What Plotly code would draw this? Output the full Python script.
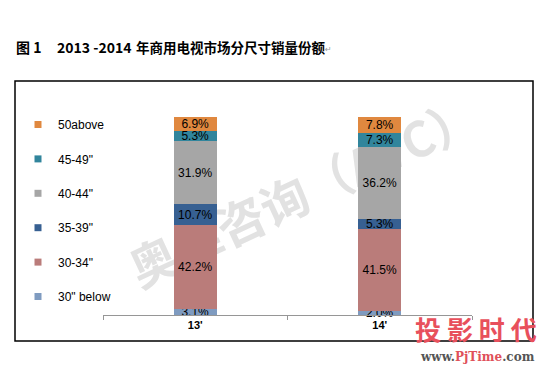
import plotly.graph_objects as go

categories = ["13'", "14'"]
legend_labels = ["30\" below", "30-34\"", "35-39\"", "40-44\"", "45-49\"", "50above"]
values_30below = [3.1, 2.0]
values_30_34 = [42.2, 41.5]
values_35_39 = [10.7, 5.3]
values_40_44 = [31.9, 36.2]
values_45_49 = [5.3, 7.3]
values_50above = [6.9, 7.8]
colors = ["#7F9BC0", "#BA7C7A", "#376092", "#A6A6A6", "#31859C", "#E0883F"]

title_prefix = "图 1"
title_years = "2013 -2014"
title_cjk = "年商用电视市场分尺寸销量份额"
watermark = "奥维咨询（AVC）"

all_values = [values_30below, values_30_34, values_35_39, values_40_44, values_45_49, values_50above]

fig = go.Figure()
for name, vals, col in zip(legend_labels, all_values, colors):
    fig.add_trace(go.Bar(
        x=categories, y=vals, name=name, marker=dict(color=col, line=dict(width=0)),
        width=0.235, cliponaxis=False,
        text=[f"{v:.1f}%" for v in vals], textposition="inside", insidetextanchor="middle",
        constraintext="none", textangle=0,
        textfont=dict(family="Liberation Sans, Arial", size=12, color="black"),
        showlegend=False, hoverinfo="skip",
    ))

# legend entries (small square markers), top to bottom: 50above ... 30" below
for i, (name, col) in enumerate(zip(legend_labels[::-1], colors[::-1])):
    fig.add_trace(go.Scatter(
        x=[None], y=[None], mode="markers", name=name,
        marker=dict(symbol="square", size=7, color=col),
        legendgroup=f"g{i}", showlegend=True,
    ))

W_L, W_R = 103, 472
Y_T, Y_B = 117, 315
pw = W_R - W_L
ph = Y_B - Y_T

def px(x):
    return (x - W_L) / pw

def py(y):
    return (Y_B - y) / ph

fig.update_layout(
    width=550, height=375,
    margin=dict(l=W_L, r=550 - W_R, t=Y_T, b=375 - Y_B, autoexpand=False),
    paper_bgcolor="white", plot_bgcolor="white",
    barmode="stack",
    font=dict(family="Liberation Sans, Arial", color="black"),
    xaxis=dict(
        range=[-0.5, 1.5], showline=True, linecolor="#969696", linewidth=1,
        ticks="outside", tickson="boundaries", ticklen=4, tickcolor="#969696",
        showgrid=False, zeroline=False,
        tickfont=dict(family="Liberation Sans, Arial", size=11, color="black"),
        tickprefix="<b>", ticksuffix="</b>",
    ),
    yaxis=dict(range=[0, 100.2], visible=False, showgrid=False, zeroline=False),
    legend=dict(
        x=px(18), xanchor="left", y=py(110), yanchor="top",
        traceorder="grouped", tracegroupgap=15.4, maxheight=320,
        font=dict(family="Liberation Sans, Arial", size=12, color="black"),
        bgcolor="rgba(0,0,0,0)", itemwidth=30,
    ),
    showlegend=True,
)

# outer border
fig.add_shape(type="rect", xref="paper", yref="paper",
              x0=px(15), x1=px(533), y0=py(341), y1=py(81),
              line=dict(color="black", width=1.5), fillcolor="rgba(0,0,0,0)", layer="below")

# watermark under bars
fig.add_shape(type="line", xref="paper", yref="paper",
              x0=px(141), y0=py(274), x1=px(471), y1=py(120),
              line=dict(color="rgba(0,0,0,0)", width=0), layer="below",
              label=dict(text="<b>" + watermark + "</b>", textposition="middle", textangle=-25,
                         xanchor="center", yanchor="middle",
                         font=dict(family="Noto Sans CJK SC", size=48, color="#E2E2E2")))

# title
fig.add_annotation(xref="paper", yref="paper", x=px(14), y=py(47), xanchor="left", yanchor="middle",
                   text="<b>" + title_prefix + "</b>", showarrow=False,
                   font=dict(family="Noto Sans CJK SC", size=14, color="black"))
fig.add_annotation(xref="paper", yref="paper", x=px(55), y=py(47), xanchor="left", yanchor="middle",
                   text="<b>" + title_years + "</b>", showarrow=False,
                   font=dict(family="Noto Sans CJK SC", size=14, color="black"))
fig.add_annotation(xref="paper", yref="paper", x=px(134), y=py(47), xanchor="left", yanchor="middle",
                   text="<b>" + title_cjk + "</b>", showarrow=False,
                   font=dict(family="Noto Sans CJK SC", size=13.5, color="black"))
fig.add_annotation(xref="paper", yref="paper", x=px(323), y=py(49), xanchor="left", yanchor="middle",
                   text="↵", showarrow=False,
                   font=dict(family="DejaVu Sans", size=8, color="#999999"))

# PjTime logo
fig.add_annotation(xref="paper", yref="paper", x=px(476), y=py(328), xanchor="center", yanchor="middle",
                   text="<b>投 影 时 代</b>", showarrow=False,
                   font=dict(family="Noto Sans CJK SC", size=26, color="#E8505C"))
fig.add_annotation(xref="paper", yref="paper", x=px(477), y=py(357), xanchor="center", yanchor="middle",
                   text="<b>www.<span style='color:#E0505A'>PjTime</span>.com</b>", showarrow=False,
                   font=dict(family="DejaVu Serif", size=12, color="#555555"))

fig.write_html("out.html", post_script="document.body.style.margin='0';",
               config={"displayModeBar": False})
